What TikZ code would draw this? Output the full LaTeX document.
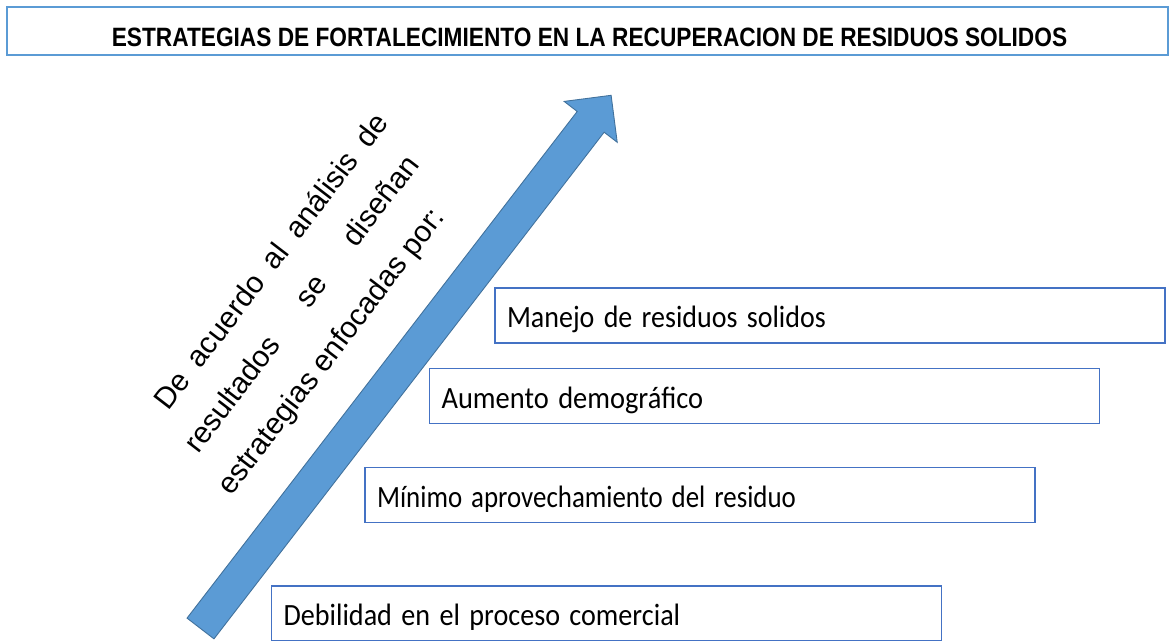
\documentclass[tikz,border=0pt]{standalone}
\usepackage{fontspec}
\setmainfont{Liberation Sans}
\newfontfamily\calibri{Carlito}
\usepackage{tikz}
\usetikzlibrary{positioning}

\definecolor{flechaazul}{RGB}{91,155,213}
\definecolor{flechaborde}{RGB}{65,113,156}
\definecolor{cajaborde}{RGB}{68,114,196}

\tikzset{
  caja/.style={draw=cajaborde, line width=0.7pt, minimum width=13.4cm, minimum height=1.1cm,
    text width=12.92cm, inner xsep=0.24cm, align=left, text height=0.55cm, text depth=0.05cm,
    font=\calibri\fontsize{17.6pt}{20pt}\selectfont},
  lema/.style={rotate=52.5, anchor=base west, inner sep=0pt,
    font=\fontsize{17pt}{20pt}\selectfont},
}

\begin{document}
\begin{tikzpicture}[x=0.02cm,y=0.02cm]

  \fill [white] (0,0) rectangle (1170,641);
  \useasboundingbox (0,0) rectangle (1170,641);

  \draw [flechaazul, line width=1.4pt] (7,586) rectangle (1168,634);
  \node [anchor=base, inner sep=0pt] (titulo) at (589.5,594)
    {\scalebox{0.855}[1]{\bfseries\fontsize{15.1pt}{18pt}\selectfont ESTRATEGIAS DE FORTALECIMIENTO EN LA RECUPERACION DE RESIDUOS SOLIDOS}};



  \begin{scope}[shift={(200.5,12.5)}, rotate=52.4]
    \draw [fill=flechaazul, draw=flechaborde, line width=0.5pt]
      (0,-17) -- (639.5,-17) -- (639.5,-33.5) -- (673,0) -- (639.5,33.5) -- (639.5,17) -- (0,17) -- cycle;
  \end{scope}



  \node [lema] (linA) at (168,229) {\makebox[7.28cm][s]{De acuerdo al análisis de}};
  \node [lema] (linB) at (198,186) {\makebox[7.3cm][s]{resultados se diseñan}};
  \node [lema] (linC) at (231,144) {estrategias enfocadas por:};



  \node [caja] (manejo) at (830,325.5) {\scalebox{0.905}[1]{Manejo de residuos solidos}};
  \node [caja] (aumento) at (764.5,245) {\scalebox{0.92}[1]{Aumento demográfico}};
  \node [caja] (minimo) at (700,146) {\scalebox{0.87}[1]{Mínimo aprovechamiento del residuo}};
  \node [caja] (debilidad) at (606.5,27.5) {\scalebox{0.91}[1]{Debilidad en el proceso comercial}};

\end{tikzpicture}
\end{document}
